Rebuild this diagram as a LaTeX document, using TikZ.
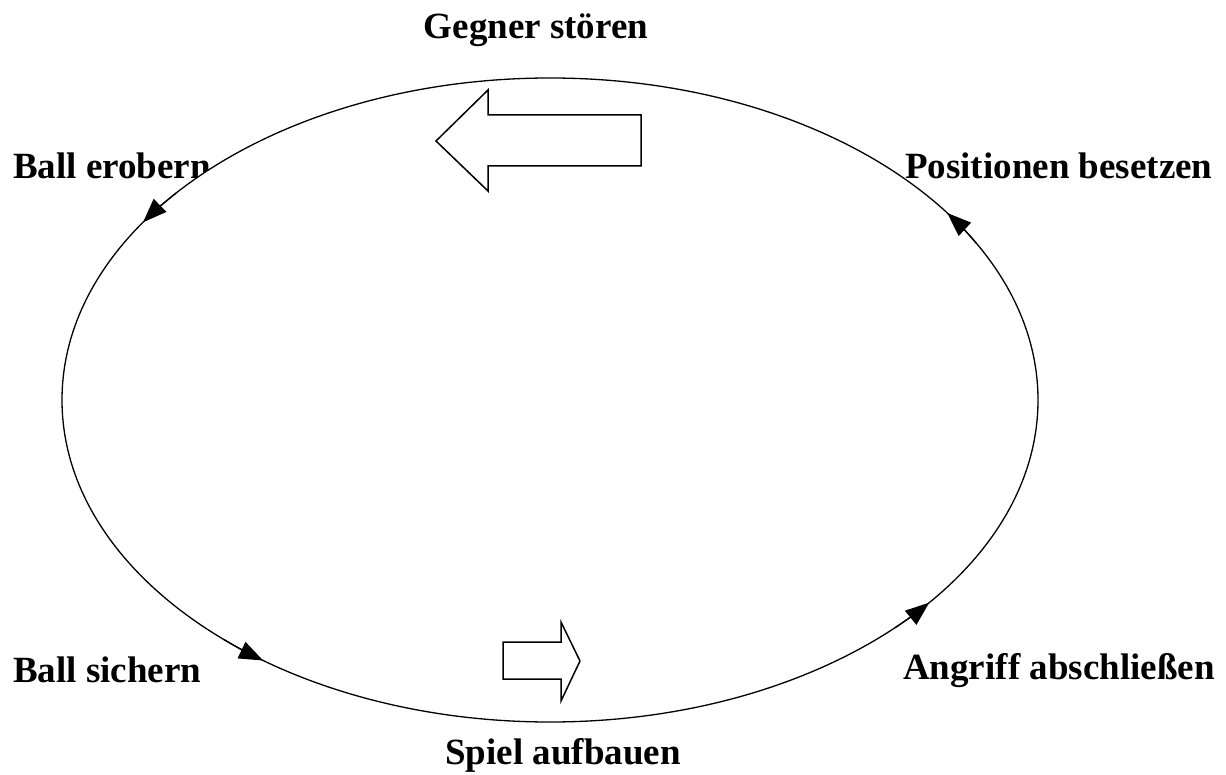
\documentclass[tikz,border=0pt]{standalone}
\usepackage{fontspec}
\setmainfont{Liberation Serif}
\usetikzlibrary{arrows.meta}
\tikzset{
  lbl/.style={inner sep=0pt, font=\bfseries\fontsize{37}{42}\selectfont},
  ring/.style={line width=1.3pt, fill=white},
  dirarrow/.style={line width=1.3pt, -{Triangle[length=24pt,width=18pt]}},
  bigarrow/.style={line width=1.5pt, fill=white, line join=miter}
}
\begin{document}
\begin{tikzpicture}[x=1pt,y=-1pt]
\useasboundingbox (0,0) rectangle (1226,775);
% label partly covered by the ring
\node[lbl, anchor=base west] (be) at (13,179) {Ball erobern};
% cycle
\coordinate (c) at (550,400);
\draw[ring] (c) ellipse [x radius=488, y radius=322];
% other labels
\node[lbl, anchor=base] (gs) at (536,39) {Gegner stören};
\node[lbl, anchor=base west] (pb) at (905,179) {Positionen besetzen};
\node[lbl, anchor=base west] (bs) at (13,682) {Ball sichern};
\node[lbl, anchor=base west] (aa) at (903,679) {Angriff abschließen};
\node[lbl, anchor=base] (sa) at (563,764) {Spiel aufbauen};
% direction markers
\draw[dirarrow] (c) ++(220:488 and 322) arc[start angle=220, end angle=213.5, x radius=488, y radius=322];
\draw[dirarrow] (c) ++(132:488 and 322) arc[start angle=132, end angle=126, x radius=488, y radius=322];
\draw[dirarrow] (c) ++(45:488 and 322) arc[start angle=45, end angle=39, x radius=488, y radius=322];
\draw[dirarrow] (c) ++(331:488 and 322) arc[start angle=331, end angle=324.5, x radius=488, y radius=322];
% block arrows
\draw[bigarrow] (641,115) -- (488,115) -- (488,90) -- (436,141) -- (488,191) -- (488,166) -- (641,166) -- cycle;
\draw[bigarrow] (503,642) -- (561,642) -- (561,622) -- (580,661) -- (561,701) -- (561,679) -- (503,679) -- cycle;
\end{tikzpicture}
\end{document}
